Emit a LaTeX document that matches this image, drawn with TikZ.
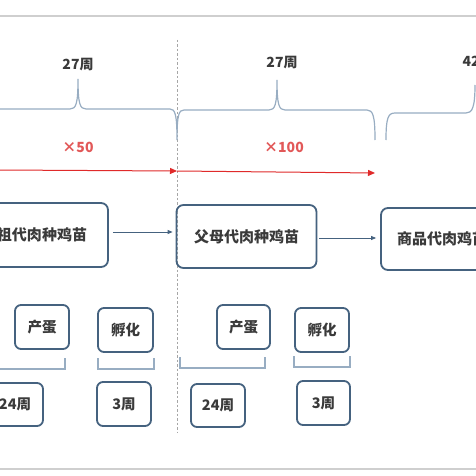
\documentclass[tikz,border=0pt]{standalone}
\usepackage{fontspec}
\newfontfamily\cjk{Noto Sans CJK SC}
\usetikzlibrary{arrows.meta}
\definecolor{boxc}{HTML}{45627F}
\definecolor{txt}{HTML}{3A3A3A}
\definecolor{bracec}{HTML}{98ADC2}
\definecolor{redc}{HTML}{E02A2A}
\definecolor{redt}{HTML}{E25858}
\definecolor{framec}{HTML}{CFCFCF}
\tikzset{
  bigbox/.style={draw=boxc, line width=1.8pt, rounded corners=7pt, text=txt, font=\cjk\bfseries\fontsize{15}{15}\selectfont, inner sep=0pt},
  smallbox/.style={draw=boxc, line width=1.8pt, rounded corners=6pt, text=txt, font=\cjk\bfseries\fontsize{14.5}{14.5}\selectfont, inner sep=0pt},
  lbl/.style={text=txt, font=\cjk\bfseries\fontsize{14}{14}\selectfont},
  redlbl/.style={text=redt, font=\cjk\bfseries\fontsize{14}{14}\selectfont},
  bracel/.style={draw=bracec, line width=1.2pt},
  bracketl/.style={draw=bracec, line width=1.2pt},
  redarrow/.style={draw=redc, line width=1pt, -{Triangle[length=7pt,width=6pt]}},
  bluearrow/.style={draw=boxc, line width=0.8pt, -{Triangle[length=5pt,width=4pt]}},
}
\begin{document}
\begin{tikzpicture}[x=1pt,y=-1pt]
\useasboundingbox (0,0) rectangle (476,476);
\clip (0,0) rectangle (476,476);
\fill[white] (0,0) rectangle (476,476);
% frame lines
\draw[framec, line width=1.5pt] (0,16) -- (476,16);
\draw[framec, line width=2.5pt] (0,469) -- (476,469);
% dashed divider
\coordinate (dtop) at (177,40);
\coordinate (dbot) at (177,433);
\draw[gray!70, line width=0.8pt, dash pattern=on 2.5pt off 2pt] (dtop) -- (dbot);
% braces
\draw[bracel] (-5,109) -- (70,109) .. controls (76,109) and (78,104) .. (78,79)
  .. controls (78,104) and (80,109) .. (86,109) -- (170,109)
  .. controls (175,109) and (177,114) .. (177,140)
  .. controls (177,114) and (179,110) .. (184,110) -- (269,110)
  .. controls (275,110) and (277,105) .. (277,80)
  .. controls (277,105) and (279,110) .. (285,110) -- (367,110)
  .. controls (373,110) and (375,116) .. (375,140);
\draw[bracel] (386,140) .. controls (386,118) and (388,113) .. (395,113) -- (466,113)
  .. controls (472,113) and (475,108) .. (475,85);
% top labels
\node[lbl] (w1) at (78,65) {27周};
\node[lbl] (w2) at (282,63) {27周};
\node[lbl, anchor=west] (w3) at (459,62) {42周};
\node[redlbl] (m1) at (78,147) {×50};
\node[redlbl] (m2) at (284,147) {×100};
% red arrows
\coordinate (r0) at (-2,170);
\coordinate (r1) at (177,171);
\coordinate (r2) at (375,173);
\draw[redarrow] (r0) -- (r1);
\draw[redarrow] (r1) -- (r2);
% main boxes
\node[bigbox, minimum width=132pt, minimum height=64pt] (b1) at (42,235) {祖代肉种鸡苗};
\node[bigbox, minimum width=140pt, minimum height=63pt] (b2) at (246.5,236.5) {父母代肉种鸡苗};
\node[bigbox, minimum width=140pt, minimum height=62pt, text width=130pt, align=left] (b3) at (451,239) {\hspace*{11pt}商品代肉鸡苗};
\draw[bluearrow, shorten <=4pt, shorten >=3pt] (b1.east |- 0,232) -- (b2.west |- 0,232);
\draw[bluearrow, shorten <=2pt, shorten >=4pt] (b2.east |- 0,238) -- (b3.west |- 0,238);
% small boxes
\node[smallbox, minimum width=54pt, minimum height=44pt] (e1) at (42,327) {产蛋};
\node[smallbox, minimum width=55pt, minimum height=44pt] (h1) at (125.5,330) {孵化};
\node[smallbox, minimum width=53pt, minimum height=44pt] (e2) at (243.5,327) {产蛋};
\node[smallbox, minimum width=54pt, minimum height=44pt] (h2) at (322,330) {孵化};
\node[smallbox, minimum width=56pt, minimum height=43pt] (t1) at (15,404.5) {24周};
\node[smallbox, minimum width=54pt, minimum height=44pt] (t2) at (124,404) {3周};
\node[smallbox, minimum width=54pt, minimum height=43pt] (t3) at (218,405.5) {24周};
\node[smallbox, minimum width=53pt, minimum height=44pt] (t4) at (323.5,403) {3周};
% brackets
\draw[bracketl] (-5,369) -- (65,369) -- (65,358);
\draw[bracketl] (98,358) -- (98,369) -- (154,369) -- (154,358);
\draw[bracketl] (180,357) -- (180,368) -- (265,368) -- (265,357);
\draw[bracketl] (294,356) -- (294,367) -- (350,367) -- (350,356);
\end{tikzpicture}
\end{document}
